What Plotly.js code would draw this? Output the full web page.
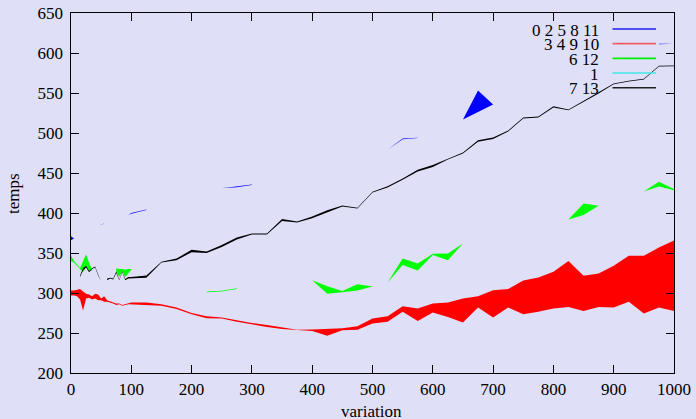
<!DOCTYPE html>
<html>
<head>
<meta charset="utf-8">
<script src="https://cdn.plot.ly/plotly-3.0.1.min.js"></script>
<style>html,body{margin:0;padding:0;background:#dfdff7;}#chart{width:696px;height:419px;}</style>
</head>
<body>
<div id="chart"></div>
<script>
// ---- data ----
const xs = [0,5,10,15,20,25,30,35,40,45,50,55,60,65,70,75,80,85,90,95,100,
  125,150,175,200,225,250,275,300,325,350,375,400,425,450,475,500,525,550,575,600,625,650,675,700,725,750,775,800,825,850,875,900,925,950,975,1000];

const n = null;
const blueLo = [366,368,n,370,372,374.5,n,n,n,384,385,386.5,n,n,n,n,n,n,n,397.5,399.2,
  403.7,n,n,n,n,431,432.3,435,n,n,n,n,n,n,n,n,479,492.3,493.6,n,n,517,526,535.5,n,n,n,n,573,577.3,582.3,n,n,n,611,611];
const blueHi = [371,369,n,370,372.8,375,n,n,n,384,385.8,387,n,n,n,n,n,n,n,397.5,400,
  404.5,n,n,n,n,431,433,435.5,n,n,n,n,n,n,n,n,479,493,494,n,n,517,553,535.5,n,n,n,n,573,578,583,n,n,n,611.6,611.6];

const redLo = [297,297,296,292,278,293,294,292,293,291,291,289,289,288,287,285,286,284,285,286,286,
  285,284,280,273.5,268.5,268,264,260.5,257.5,255,253.5,252.5,246.5,253.5,254,262,264,276.5,265,275.5,270,263,282,269.5,282,273.5,276.5,280.5,282.5,277.5,282.5,282,289,274.5,282,277.5];
const redHi = [303,303,304,305,302,299,298,296,299,298,293,296,291,289,288,287,287,285,286,287,288,
  288,286,282,275,271,269.5,266,262.5,260,257,254,254.5,255,256,258.5,268,271,283.5,280.5,287,288,293,296,303.5,305,315.5,319.5,326.5,340,321.5,324.5,334,346.5,346.5,357,365.5];

const greenLo = [340,338,335,330,326,333,327,328,n,n,n,n,n,n,n,327,320,327,320,324,329,
  n,n,n,n,301,302,305,n,n,n,n,316,299,301,303,308,313,335,328,347.5,341,362,n,n,n,n,n,n,392,397.5,409,n,n,427,433,428.5];
const greenHi = [347,340,336,331,340,348,338,329,n,n,n,n,n,n,n,331,330,330,329,330,330,
  n,n,n,n,301.8,302.8,305.8,n,n,n,n,316,308.5,302.5,311,308,313,343,337,349,349.5,362,n,n,n,n,n,n,392,412,409,n,n,427,439,430];

const cyanLo = [n,n,n,n,n,n,n,n,n,n,n,n,n,n,n,n,n,n,n,n,n,
  n,n,n,n,n,n,n,n,n,n,n,n,n,n,n,n,n,n,n,n,n,n,n,n,n,n,n,n,n,n,n,n,n,n,n,n];
const cyanHi = cyanLo;

const blackLo = [n,n,n,320,328,332,326,330,332,322,315,n,316,318,317,325,316,326,316,318,318.5,
  319,338,341,351,350,357.5,367,373,373,390,388,393.5,401,408,405.5,425.5,432,441.5,452,457.5,467,474.5,489,492.5,502,518,519.5,532,528.5,539,549.5,561,564.5,567,583,583.5];
const blackHi = [n,n,n,322,331,334,327.5,331,333,323,315.5,n,318,319,318,327,317,327,317.5,320,320,
  322,339,343,354,352,360,369.5,374.5,374.5,392.5,389.5,395.5,403.5,409.5,406.5,426.5,433.5,443,454,460,468,475.5,491,494.5,503,519.5,520.5,533.5,529.5,540.5,551,562,565.2,567.8,584,584.3];

const groupNames = ["0 2 5 8 11", "3 4 9 10", "6 12", "1", "7 13"];
const groupColors = ["#0000ff", "#ff0000", "#00ff00", "#00ffff", "#000000"];
const legendColors = ["#2020f0", "#f06060", "#00ee00", "#40e8e8", "#202020"];
const xTicks = [0,100,200,300,400,500,600,700,800,900,1000];
const yTicks = [200,250,300,350,400,450,500,550,600,650];

// ---- build band polygons ----
function band(lo, hi) {
  const X = [], Y = [];
  let i = 0;
  while (i < xs.length) {
    if (lo[i] === null || hi[i] === null) { i++; continue; }
    let j = i;
    while (j + 1 < xs.length && lo[j + 1] !== null && hi[j + 1] !== null) j++;
    if (X.length) { X.push(null); Y.push(null); }
    for (let k = i; k <= j; k++) { X.push(xs[k]); Y.push(hi[k]); }
    for (let k = j; k >= i; k--) { X.push(xs[k]); Y.push(lo[k]); }
    i = j + 1;
  }
  if (!X.length) { X.push(null); Y.push(null); }
  return {X, Y};
}
const bands = [[blueLo, blueHi], [redLo, redHi], [greenLo, greenHi], [cyanLo, cyanHi], [blackLo, blackHi]];
const data = bands.map((b, g) => {
  const p = band(b[0], b[1]);
  return {type: 'scatter', mode: 'lines', x: p.X, y: p.Y, fill: 'toself',
    fillcolor: groupColors[g], line: {width: 0, color: groupColors[g]},
    name: groupNames[g], hoverinfo: 'skip', showlegend: false};
});

// ---- layout ----
const W = 696, H = 419, M = {l: 71, r: 22, t: 13, b: 46};
const pw = W - M.l - M.r, ph = H - M.t - M.b;
const fx = px => (px - M.l) / pw;
const fy = py => (H - M.b - py) / ph;
const font = {family: 'Liberation Serif, Times New Roman, serif', size: 17, color: '#000'};

const annotations = [
  {text: 'temps', xref: 'paper', yref: 'paper', x: fx(13), y: fy(193), textangle: -90, showarrow: false, font: font, xanchor: 'center', yanchor: 'middle'},
  {text: 'variation', xref: 'paper', yref: 'paper', x: fx(371), y: fy(411), showarrow: false, font: font, xanchor: 'center', yanchor: 'middle'}
];
const shapes = [];
groupNames.forEach((nm, g) => {
  const py = 29 + g * 14.67;
  annotations.push({text: nm, xref: 'paper', yref: 'paper', x: fx(601), y: fy(py + 1), showarrow: false,
    font: font, xanchor: 'right', yanchor: 'middle'});
  shapes.push({type: 'line', xref: 'paper', yref: 'paper', x0: fx(612.5), x1: fx(656), y0: fy(py), y1: fy(py),
    line: {color: legendColors[g], width: 1.6}});
});

const axisCommon = {
  ticks: 'inside', ticklen: 8, tickwidth: 1, tickcolor: '#000',
  showline: true, linecolor: '#000', linewidth: 1.2, mirror: 'ticks',
  showgrid: false, zeroline: false, tickfont: font, fixedrange: true
};
const layout = {
  width: W, height: H, margin: M,
  paper_bgcolor: '#dfdff7', plot_bgcolor: '#dfdff7',
  showlegend: false,
  xaxis: Object.assign({range: [0, 1000], tickvals: xTicks, ticktext: xTicks.map(String)}, axisCommon),
  yaxis: Object.assign({range: [200, 650], tickvals: yTicks, ticktext: yTicks.map(v => String(v) + '\u2009')}, axisCommon),
  annotations: annotations,
  shapes: shapes
};
Plotly.newPlot('chart', data, layout, {staticPlot: true, displayModeBar: false});
</script>
</body>
</html>
